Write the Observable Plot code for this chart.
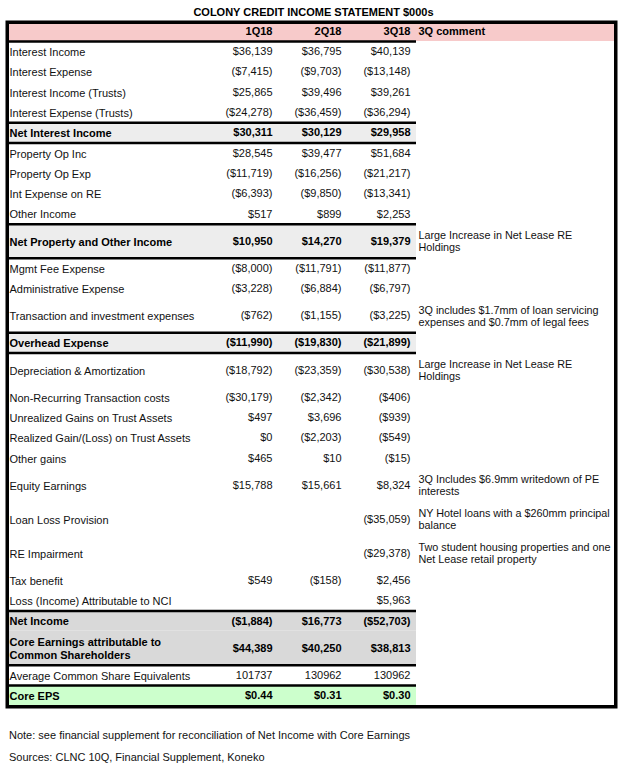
<!DOCTYPE html>
<html><head><meta charset="utf-8">
<script src="https://cdn.jsdelivr.net/npm/d3@7"></script>
<script src="https://cdn.jsdelivr.net/npm/@observablehq/plot@0.6"></script>
<style>
body{margin:0;background:#fff;font-family:"Liberation Sans",Arial,sans-serif;color:#000;}
#title{width:627px;height:20px;box-sizing:border-box;padding-top:6px;font-size:11px;line-height:12px;font-weight:bold;text-align:center;}
#chart svg{display:block;}
#notes{font-size:11px;line-height:12px;padding-left:9px;color:#111;}
#notes div.n1{margin-top:19px;}
#notes div.n2{margin-top:10px;}
</style></head><body>
<div id="title">COLONY CREDIT INCOME STATEMENT $000s</div>
<div id="chart"></div>
<div id="notes">
<div class="n1">Note: see financial supplement for reconciliation of Net Income with Core Earnings</div>
<div class="n2">Sources: CLNC 10Q, Financial Supplement, Koneko</div>
</div>
<script>
// ---- data ----
const quarters = ["1Q18", "2Q18", "3Q18"];
const commentHeader = "3Q comment";
const labels = [
  "Interest Income", "Interest Expense", "Interest Income (Trusts)", "Interest Expense (Trusts)", "Net Interest Income",
  "Property Op Inc", "Property Op Exp", "Int Expense on RE", "Other Income", "Net Property and Other Income",
  "Mgmt Fee Expense", "Administrative Expense", "Transaction and investment expenses", "Overhead Expense",
  "Depreciation & Amortization", "Non-Recurring Transaction costs", "Unrealized Gains on Trust Assets",
  "Realized Gain/(Loss) on Trust Assets", "Other gains", "Equity Earnings", "Loan Loss Provision", "RE Impairment",
  "Tax benefit", "Loss (Income) Attributable to NCI",
  "Net Income", "Core Earnings attributable to\nCommon Shareholders", "Average Common Share Equivalents", "Core EPS"
];
const q1 = [36139, -7415, 25865, -24278, 30311, 28545, -11719, -6393, 517, 10950, -8000, -3228, -762, -11990,
  -18792, -30179, 497, 0, 465, 15788, null, null, 549, null, -1884, 44389, 101737, 0.44];
const q2 = [36795, -9703, 39496, -36459, 30129, 39477, -16256, -9850, 899, 14270, -11791, -6884, -1155, -19830,
  -23359, -2342, 3696, -2203, 10, 15661, null, null, -158, null, 16773, 40250, 130962, 0.31];
const q3 = [40139, -13148, 39261, -36294, 29958, 51684, -21217, -13341, 2253, 19379, -11877, -6797, -3225, -21899,
  -30538, -406, -939, -549, -15, 8324, -35059, -29378, 2456, 5963, -52703, 38813, 130962, 0.30];
const comments = [
  "", "", "", "", "", "", "", "", "", "Large Increase in Net Lease RE\nHoldings",
  "", "", "3Q includes $1.7mm of loan servicing\nexpenses and $0.7mm of legal fees", "",
  "Large Increase in Net Lease RE\nHoldings", "", "", "", "",
  "3Q Includes $6.9mm writedown of PE\ninterests", "NY Hotel loans with a $260mm principal\nbalance",
  "Two student housing properties and one\nNet Lease retail property", "", "",
  "", "", "", ""
];
const rowTypes = [
  "item", "item", "item", "item", "subtotal", "item", "item", "item", "item", "subtotal",
  "item", "item", "item", "subtotal", "item", "item", "item", "item", "item", "item", "item", "item",
  "item", "item", "total", "total", "shares", "eps"
];

// ---- layout / styles ----
const W = 627, SH = 690;
const M = {left: 6.75, right: 11.75, top: 1.75, bottom: 3.75};
const labelX = 9, commentX = 418, tableRight = 416;
const colRight = {"1Q18": 272, "2Q18": 341, "3Q18": 410};
const rowH = {header: 19.25, 1: 20.3, 2: 34};
const fills = {header: "#f7caca", subtotal: "#ededed", total: "#d9d9d9", eps: "#ccffcc"};
const boldTypes = new Set(["header", "subtotal", "total", "eps"]);

const comma = d3.format(",");
function fmt(v, type) {
  if (v == null) return "";
  if (type === "shares") return String(v);
  if (type === "eps") return "$" + v.toFixed(2);
  return v < 0 ? "($" + comma(-v) + ")" : "$" + comma(v);
}

// build rows (header first)
const rows = [{label: "", type: "header", comment: commentHeader, vals: quarters.slice()}];
labels.forEach((l, i) => rows.push({
  label: l, type: rowTypes[i], comment: comments[i],
  vals: [q1[i], q2[i], q3[i]].map(v => fmt(v, rowTypes[i]))
}));
let y = M.top;
rows.forEach(r => {
  const lines = Math.max(r.label.split("\n").length, r.comment.split("\n").length);
  const h = r.type === "header" ? rowH.header : rowH[lines];
  r.y0 = y; r.y1 = y + h; r.yc = y + h / 2; y += h;
});
const separators = [];
for (let i = 1; i < rows.length; i++) if (rows[i].type !== rows[i - 1].type) separators.push(rows[i].y0);

const cells = [];
rows.forEach(r => quarters.forEach((q, j) => cells.push({q, text: r.vals[j], yc: r.yc, bold: boldTypes.has(r.type)})));

const font = "Liberation Sans, Arial, sans-serif";
const chart = Plot.plot({
  width: W, height: SH,
  marginLeft: M.left, marginRight: M.right, marginTop: M.top, marginBottom: M.bottom,
  x: {domain: [M.left, W - M.right], axis: null},
  y: {domain: [M.top, SH - M.bottom], axis: null, reverse: true},
  color: {type: "identity"},
  style: {fontFamily: font, fontSize: "11px", background: "white", color: "black"},
  marks: [
    Plot.rect(rows.filter(r => fills[r.type]), {
      x1: M.left, x2: r => r.type === "header" ? W - M.right : tableRight,
      y1: "y0", y2: "y1", fill: r => fills[r.type]
    }),
    Plot.ruleY(separators, {y: d => d, x1: M.left, x2: tableRight, stroke: "black", strokeWidth: 2.5}),
    Plot.text(rows.filter(r => !boldTypes.has(r.type)), {x: labelX, y: "yc", text: "label", textAnchor: "start", fontSize: 11, fill: "#111", lineHeight: 1.25}),
    Plot.text(rows.filter(r => boldTypes.has(r.type)), {x: labelX, y: "yc", text: "label", textAnchor: "start", fontSize: 11, fontWeight: "bold", fill: "#000", lineHeight: 1.25}),
    Plot.text(cells.filter(c => !c.bold), {x: c => colRight[c.q], y: "yc", text: "text", textAnchor: "end", fontSize: 11, fill: "#111"}),
    Plot.text(cells.filter(c => c.bold), {x: c => colRight[c.q], y: "yc", text: "text", textAnchor: "end", fontSize: 11, fontWeight: "bold", fill: "#000"}),
    Plot.text(rows.filter(r => r.comment && r.type !== "header"), {x: commentX, y: "yc", text: "comment", textAnchor: "start", fontSize: 10.8, fill: "#111", lineHeight: 1.1}),
    Plot.text(rows.filter(r => r.type === "header"), {x: commentX, y: "yc", text: "comment", textAnchor: "start", fontSize: 11, fontWeight: "bold", fill: "#000"}),
    Plot.frame({stroke: "black", strokeWidth: 3.5})
  ]
});
document.getElementById("chart").append(chart);
</script>
</body></html>
